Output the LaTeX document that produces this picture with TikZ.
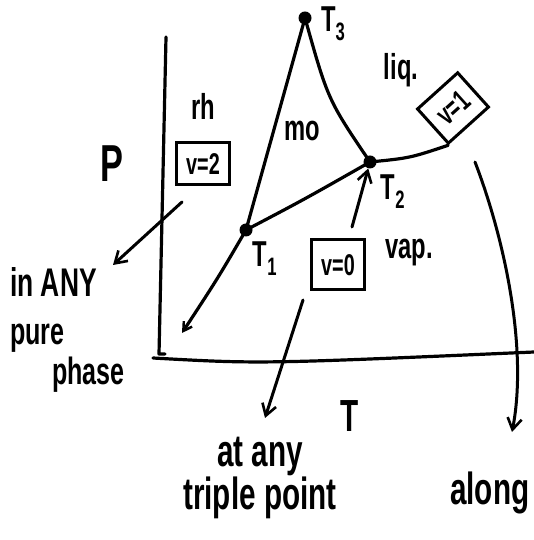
\documentclass[tikz,border=0pt]{standalone}
\usepackage{fontspec}
\newfontfamily\hand[FakeStretch=0.66]{Liberation Sans}
\usetikzlibrary{arrows.meta}
\tikzset{
  ax/.style   = {line width=3.2pt, line cap=round, line join=round},
  cv/.style   = {line width=3.2pt, line cap=round},
  fl/.style   = {-{Straight Barb[length=4mm, width=5mm, line width=2.6pt]},
                 line width=3pt, line cap=round},
  pt/.style   = {circle, fill, inner sep=0pt, minimum size=13pt},
  txt/.style  = {inner sep=0pt, font=\hand\bfseries\fontsize{36}{40}\selectfont},
  tlab/.style = {inner sep=0pt, font=\hand\bfseries\fontsize{36}{40}\selectfont},
  note/.style = {inner sep=0pt, font=\hand\bfseries\fontsize{45}{50}\selectfont},
  vbox/.style = {draw, line width=3pt, inner sep=2pt,
                 font=\hand\bfseries\fontsize{30}{32}\selectfont,
                 minimum width=53pt, minimum height=42pt},
}
\begin{document}
\begin{tikzpicture}[x=1pt, y=1pt]
  \useasboundingbox (0,0) rectangle (534,540);
  % axes
  \coordinate (ytop) at (166,503);
  \coordinate (orig) at (159,186);
  \coordinate (xbeg) at (153,182);
  \coordinate (xend) at (534,188);
  \draw[ax] (ytop) -- (orig) -- ++(6,0);
  \draw[ax] (xbeg) .. controls (260,176) .. (xend);
  \node[inner sep=0pt, font=\hand\bfseries\fontsize{52}{54}\selectfont] (plab) at (112,376) {P};
  \node[note] (tlab) at (350,124) {T};
  % triple points
  \node[pt] (T3) at (305,522) {};
  \node[pt] (T2) at (370,378) {};
  \node[pt] (T1) at (246,310) {};
  \node[tlab, anchor=west] (t3l) at (321,516) {T\textsubscript{3}};
  \node[tlab] (t2l) at (393,348) {T\textsubscript{2}};
  \node[tlab] (t1l) at (265,281) {T\textsubscript{1}};
  % phase boundaries
  \draw[cv] (T1.center) -- (T3.center);
  \draw[cv] (T3.center) .. controls (328,440) .. (T2.center);
  \draw[cv] (T1.center) .. controls (305,341) .. (T2.center);
  \node[vbox, rotate=42, minimum width=54pt, minimum height=46pt] (v1) at (453,432) {v=1};
  \draw[cv] (T2.center) .. controls (410,382) .. (v1.south west);
  \draw[cv, -{Straight Barb[length=3mm, width=3.5mm, line width=2.4pt]}]
        (T1.center) .. controls (218,262) .. (182,207);
  % phases
  \node[txt] (rh)  at (203,434) {rh};
  \node[txt] (mo)  at (302,409) {mo};
  \node[txt] (liq) at (401,470) {liq.};
  \node[txt] (vap) at (409,287) {vap.};
  \node[vbox] (v2) at (203,376) {v=2};
  \node[vbox, minimum height=50pt] (v0) at (338,275) {v=0};
  % notes
  \node[note, font=\hand\bfseries\fontsize{40}{44}\selectfont, anchor=base west] (n1a) at (10,243) {in ANY};
  \node[note, font=\hand\bfseries\fontsize{38}{44}\selectfont, anchor=base west] (n1b) at (10,195) {pure};
  \node[note, font=\hand\bfseries\fontsize{38}{44}\selectfont, anchor=base west] (n1c) at (52,155) {phase};
  \node[note, anchor=base west] (n2a) at (217,73) {at any};
  \node[note, anchor=base west] (n2b) at (183,30) {triple point};
  \node[note, anchor=base west] (n3)  at (450,35) {along};
  % arrows
  \coordinate (a1s) at (182,338);
  \coordinate (a1e) at (113,275);
  \coordinate (a2s) at (352,313);
  \coordinate (a3s) at (303,240);
  \coordinate (a3e) at (265,122);
  \coordinate (a4s) at (475,378);
  \coordinate (a4e) at (512,108);
  \draw[fl] (a1s) -- (a1e);
  \draw[fl] (a2s) -- (T2);
  \draw[fl] (a3s) -- (a3e);
  \draw[fl] (a4s) .. controls (505,300) and (528,190) .. (a4e);
\end{tikzpicture}
\end{document}
